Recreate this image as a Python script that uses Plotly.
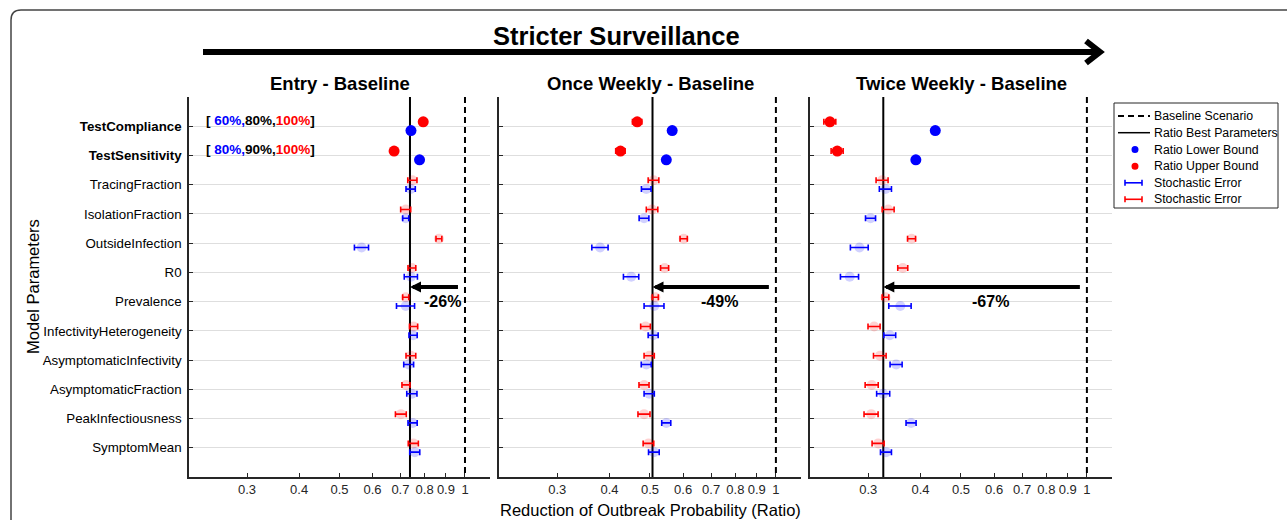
import numpy as np
import plotly.graph_objects as go

W, H = 1287, 520

# ---------------- data ----------------
parameters = ["TestCompliance", "TestSensitivity", "TracingFraction", "IsolationFraction",
              "OutsideInfection", "R0", "Prevalence", "InfectivityHeterogeneity",
              "AsymptomaticInfectivity", "AsymptomaticFraction", "PeakInfectiousness",
              "SymptomMean"]
highlight = ["TestCompliance", "TestSensitivity"]
panel_titles = ["Entry - Baseline", "Once Weekly - Baseline", "Twice Weekly - Baseline"]
range_labels = [["60%", "80%", "100%"], ["80%", "90%", "100%"]]

entry_lower = [0.742, 0.778, 0.741, 0.721, 0.565, 0.742, 0.721, 0.751, 0.733, 0.746, 0.749, 0.758]
entry_lower_err = [0.008, 0.008, 0.019, 0.012, 0.022, 0.027, 0.036, 0.017, 0.020, 0.021, 0.019, 0.021]
entry_upper = [0.794, 0.676, 0.748, 0.721, 0.866, 0.746, 0.721, 0.753, 0.742, 0.722, 0.702, 0.752]
entry_upper_err = [0.008, 0.008, 0.019, 0.020, 0.014, 0.016, 0.012, 0.017, 0.020, 0.016, 0.021, 0.021]

once_lower = [0.565, 0.547, 0.490, 0.484, 0.380, 0.451, 0.512, 0.509, 0.490, 0.498, 0.547, 0.511]
once_lower_err = [0.006, 0.006, 0.013, 0.013, 0.017, 0.019, 0.028, 0.014, 0.0135, 0.014, 0.0136, 0.015]
once_upper = [0.466, 0.425, 0.510, 0.506, 0.602, 0.542, 0.515, 0.488, 0.498, 0.484, 0.484, 0.496]
once_upper_err = [0.012, 0.011, 0.015, 0.016, 0.012, 0.012, 0.0085, 0.013, 0.014, 0.0134, 0.016, 0.0145]

twice_lower = [0.434, 0.390, 0.330, 0.304, 0.286, 0.271, 0.358, 0.338, 0.350, 0.326, 0.380, 0.331]
twice_lower_err = [0.005, 0.005, 0.011, 0.0084, 0.014, 0.0135, 0.022, 0.011, 0.0116, 0.0117, 0.0105, 0.010]
twice_upper = [0.243, 0.253, 0.324, 0.335, 0.381, 0.363, 0.330, 0.310, 0.320, 0.306, 0.305, 0.317]
twice_upper_err = [0.008, 0.0084, 0.0107, 0.011, 0.0084, 0.010, 0.006, 0.0103, 0.0111, 0.011, 0.0118, 0.0105]

best_ratio = [0.738, 0.507, 0.326]
baseline_ratio = 1.0

x_tickvals = [0.3, 0.4, 0.5, 0.6, 0.7, 0.8, 0.9, 1.0]
x_ticktext = ["0.3", "0.4", "0.5", "0.6", "0.7", "0.8", "0.9", "1"]

legend_labels = ["Baseline Scenario", "Ratio Best Parameters", "Ratio Lower Bound",
                 "Ratio Upper Bound", "Stochastic Error", "Stochastic Error"]

# ---------------- layout helpers ----------------
FONT = "Liberation Sans, Arial, Helvetica, sans-serif"
AX = "#262626"
BLUE = "#0000FF"
RED = "#FF0000"


def px(p):
    return p / W


def py(p):
    return 1 - p / H


panel_px = [(189, 490), (499, 801), (810, 1112)]
y_top, y_bot = 97, 477
x_log_range = [-0.662, 0.060]
n = len(parameters)
ypos = np.arange(1, n + 1)
offset = 0.15
strong = np.array([p in highlight for p in parameters])

lowers = [entry_lower, once_lower, twice_lower]
lower_errs = [entry_lower_err, once_lower_err, twice_lower_err]
uppers = [entry_upper, once_upper, twice_upper]
upper_errs = [entry_upper_err, once_upper_err, twice_upper_err]

fig = go.Figure()
annotations = []
shapes = []

for i in range(3):
    xa = "x" if i == 0 else f"x{i+1}"
    ya = "y" if i == 0 else f"y{i+1}"
    # baseline and best lines
    fig.add_trace(go.Scatter(x=[baseline_ratio, baseline_ratio], y=[0, n + 1], mode="lines",
                             line=dict(color="black", width=2, dash="6px,4px"),
                             xaxis=xa, yaxis=ya, showlegend=False, hoverinfo="skip"))
    fig.add_trace(go.Scatter(x=[best_ratio[i], best_ratio[i]], y=[0, n + 1], mode="lines",
                             line=dict(color="black", width=2),
                             xaxis=xa, yaxis=ya, showlegend=False, hoverinfo="skip"))
    for vals, errs, color, faint, dy in [
        (uppers[i], upper_errs[i], RED, "rgba(255,0,0,0.18)", -offset),
        (lowers[i], lower_errs[i], BLUE, "rgba(0,0,255,0.18)", offset),
    ]:
        vals = np.array(vals)
        errs = np.array(errs)
        for mask, mcolor, msize in [(~strong, faint, 10), (strong, color, 11)]:
            fig.add_trace(go.Scatter(
                x=vals[mask], y=ypos[mask] + dy, mode="markers",
                marker=dict(color=mcolor, size=msize, line=dict(width=0)),
                error_x=dict(type="data", array=errs[mask], color=color, thickness=1.6, width=3),
                xaxis=xa, yaxis=ya, showlegend=False, hoverinfo="skip"))

    x0, x1 = panel_px[i]
    xaxis = dict(type="log", range=x_log_range, domain=[px(x0), px(x1)], anchor=ya,
                 showline=True, linecolor=AX, linewidth=1.5, ticks="inside", ticklen=4,
                 tickcolor=AX, tickwidth=1, tickvals=x_tickvals, ticktext=x_ticktext,
                 tickfont=dict(family=FONT, size=13, color=AX), showgrid=False,
                 zeroline=False, ticklabelstandoff=0)
    ticktext = [f"<b>{p}</b>" if p in highlight else p for p in parameters]
    yaxis = dict(range=[n + 1, 0], domain=[py(y_bot), py(y_top)], anchor=xa,
                 tickvals=list(ypos), ticktext=ticktext, showticklabels=(i == 0),
                 ticks="inside", ticklen=4, tickcolor=AX, tickwidth=1,
                 showgrid=True, gridcolor="#dedede", gridwidth=1,
                 showline=True, linecolor=AX, linewidth=1.5, zeroline=False,
                 tickfont=dict(family=FONT, size=13.3, color="black"), ticklabelstandoff=3)
    key = "" if i == 0 else str(i + 1)
    fig.update_layout(**{f"xaxis{key}": xaxis, f"yaxis{key}": yaxis})

    # panel title
    annotations.append(dict(text=f"<b>{panel_titles[i]}</b>", x=px((x0 + x1) / 2), y=py(83),
                            xref="paper", yref="paper", showarrow=False,
                            font=dict(family=FONT, size=18.5, color="black"),
                            xanchor="center", yanchor="middle"))
    # reduction arrow
    annotations.append(dict(x=np.log10(best_ratio[i]), y=6.5, ax=np.log10(0.97), ay=6.5,
                            xref=xa, yref=ya, axref=xa, ayref=ya, text="", showarrow=True,
                            arrowhead=2, arrowsize=0.55, arrowwidth=4, arrowcolor="black",
                            standoff=0, startstandoff=0))
    pct = round((best_ratio[i] - baseline_ratio) * 100)
    annotations.append(dict(x=np.log10(best_ratio[i]) / 2, y=7.0, xref=xa, yref=ya,
                            text=f"<b>{pct}%</b>", showarrow=False, xshift=5,
                            font=dict(family=FONT, size=16, color="black"),
                            xanchor="center", yanchor="middle"))

# percentage range labels in first panel
for k, labs in enumerate(range_labels):
    txt = (f"<b>[ <span style='color:{BLUE}'>{labs[0]},</span>{labs[1]},"
           f"<span style='color:{RED}'>{labs[2]}</span>]</b>")
    annotations.append(dict(text=txt, x=px(204), y=k + 1 - 0.2, xref="paper", yref="y",
                            showarrow=False, xanchor="left", yanchor="middle",
                            font=dict(family=FONT, size=13.5, color="black")))

# overall titles
annotations.append(dict(text="<b>Stricter Surveillance</b>", x=px(616), y=py(36),
                        xref="paper", yref="paper", showarrow=False,
                        font=dict(family=FONT, size=25.5, color="black"),
                        xanchor="center", yanchor="middle"))
annotations.append(dict(text="Reduction of Outbreak Probability (Ratio)", x=px(650), y=py(510),
                        xref="paper", yref="paper", showarrow=False,
                        font=dict(family=FONT, size=16.5, color="black"),
                        xanchor="center", yanchor="middle"))
annotations.append(dict(text="Model Parameters", x=px(33), y=py(287), textangle=-90,
                        xref="paper", yref="paper", showarrow=False,
                        font=dict(family=FONT, size=16.5, color="black"),
                        xanchor="center", yanchor="middle"))

# big surveillance arrow
shapes.append(dict(type="line", xref="paper", yref="paper", x0=px(203), x1=px(1097),
                   y0=py(52), y1=py(52), line=dict(color="black", width=6)))
shapes.append(dict(type="path", xref="paper", yref="paper",
                   path=f"M {px(1086)},{py(41)} L {px(1100)},{py(52)} L {px(1086)},{py(63)}",
                   line=dict(color="black", width=6)))

# outer rounded border
shapes.append(dict(type="path", xref="paper", yref="paper",
                   path=(f"M {px(11)},{py(540)} L {px(11)},{py(20)} "
                         f"Q {px(11)},{py(10)} {px(21)},{py(10)} L {px(1300)},{py(10)}"),
                   line=dict(color="#444444", width=1.5)))

# manual legend
lx0, lx1, ly0, ly1 = 1114, 1278, 103, 208
shapes.append(dict(type="rect", xref="paper", yref="paper", x0=px(lx0), x1=px(lx1),
                   y0=py(ly1), y1=py(ly0), line=dict(color=AX, width=1), fillcolor="white"))
rows = [116, 132.7, 149.5, 166.2, 182.8, 199.3]
shapes.append(dict(type="line", xref="paper", yref="paper", x0=px(1118), x1=px(1150),
                   y0=py(rows[0]), y1=py(rows[0]), line=dict(color="black", width=2, dash="6px,4px")))
shapes.append(dict(type="line", xref="paper", yref="paper", x0=px(1118), x1=px(1150),
                   y0=py(rows[1]), y1=py(rows[1]), line=dict(color="black", width=1.5)))
for r, c in [(rows[2], BLUE), (rows[3], RED)]:
    shapes.append(dict(type="circle", xref="paper", yref="paper", x0=px(1131.5), x1=px(1138.5),
                       y0=py(r + 3.5), y1=py(r - 3.5), fillcolor=c, line=dict(width=0)))
for r, c in [(rows[4], BLUE), (rows[5], RED)]:
    shapes.append(dict(type="line", xref="paper", yref="paper", x0=px(1125), x1=px(1142),
                       y0=py(r), y1=py(r), line=dict(color=c, width=1.6)))
    for xx in (1125, 1142):
        shapes.append(dict(type="line", xref="paper", yref="paper", x0=px(xx), x1=px(xx),
                           y0=py(r - 3), y1=py(r + 3), line=dict(color=c, width=1.6)))
for r, lab in zip(rows, legend_labels):
    annotations.append(dict(text=lab, x=px(1152), y=py(r), xref="paper", yref="paper",
                            showarrow=False, xanchor="left", yanchor="middle",
                            font=dict(family=FONT, size=12.3, color="black")))

fig.update_layout(width=W, height=H, margin=dict(l=0, r=0, t=0, b=0),
                  paper_bgcolor="white", plot_bgcolor="white",
                  annotations=annotations, shapes=shapes, showlegend=False,
                  font=dict(family=FONT))

fig.write_html("out.html")
